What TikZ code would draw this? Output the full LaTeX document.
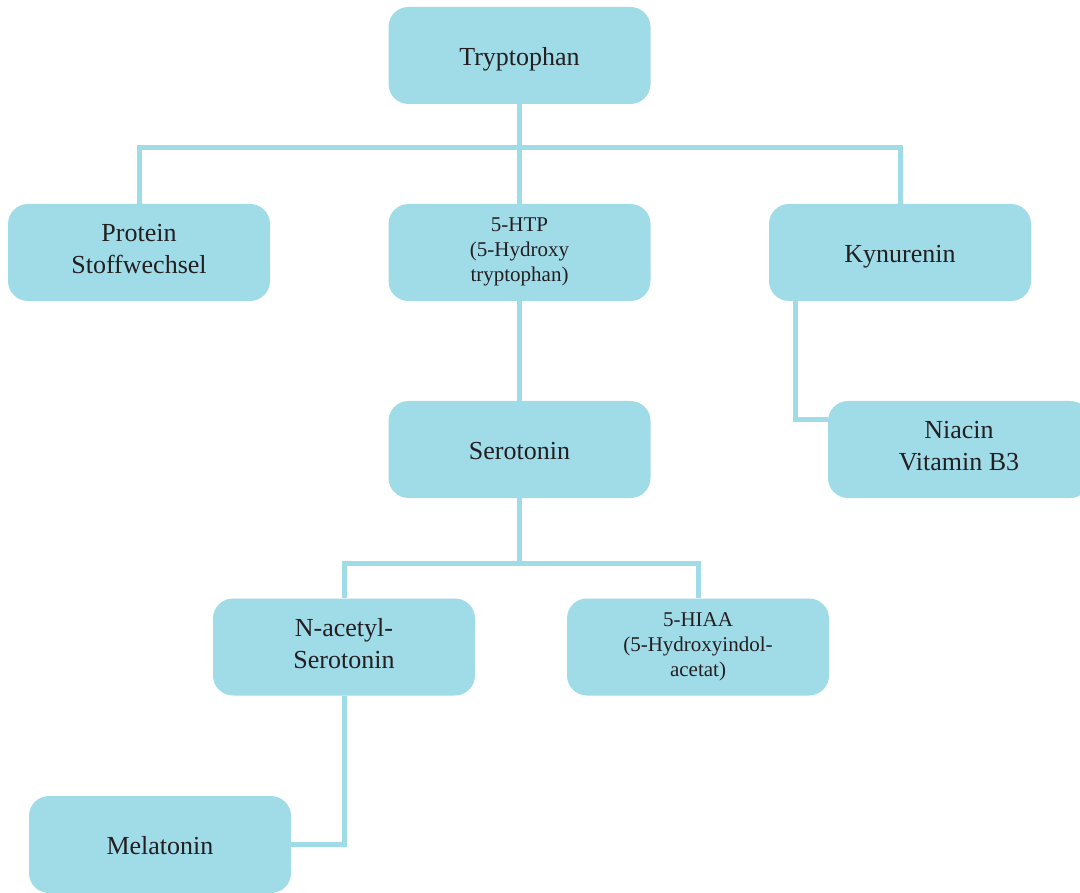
\documentclass[tikz,border=0pt]{standalone}
\usepackage{fontspec}
\setmainfont{Liberation Serif}
\usetikzlibrary{calc,backgrounds}
\definecolor{boxblue}{HTML}{A0DBE8}
\definecolor{txtcol}{HTML}{231F20}
\newcommand{\boxstrut}{\rule[-0.25em]{0pt}{1.25em}}
\begin{document}
\begin{tikzpicture}[x=1pt,y=-1pt,
  box/.style={fill=boxblue, rounded corners=20pt, minimum width=262pt, minimum height=97pt,
    inner sep=0pt, align=center, text=txtcol, font=\fontsize{26}{32}\selectfont,
    execute at begin node=\boxstrut, execute at end node=\boxstrut},
  smallbox/.style={box, font=\fontsize{21}{25}\selectfont},
  link/.style={draw=boxblue, line width=5pt}]
\useasboundingbox (0,0) rectangle (1080,893);
\node[box] (tryp) at (519.5,55.5) {Tryptophan};
\node[box] (prot) at (139,252.5) {Protein\\Stoffwechsel};
\node[smallbox] (htp) at (519.5,252.5) {5-HTP\\(5-Hydroxy\\tryptophan)};
\node[box] (kyn) at (900,252.5) {Kynurenin};
\node[box] (sero) at (519.5,449.5) {Serotonin};
\node[box] (nia) at (959,449.5) {Niacin\\Vitamin B3};
\node[box] (nac) at (344,647) {N-acetyl-\\Serotonin};
\node[smallbox] (hiaa) at (698,647) {5-HIAA\\(5-Hydroxyindol-\\acetat)};
\node[box] (mel) at (160,844.5) {Melatonin};
\coordinate (j1) at (519.5,148);
\coordinate (j2) at (519.5,563);
\begin{scope}[on background layer]
\draw[link] (tryp.south) -- (htp.north);
\draw[link] (prot.north) |- (j1) -| (kyn.north);
\draw[link] (htp.south) -- (sero.north);
\draw[link] ($(kyn.south west)+(27,0)$) |- ($(nia.west)+(0,-30)$);
\draw[link] (sero.south) -- (j2);
\draw[link] (nac.north) |- (j2) -| (hiaa.north);
\draw[link] (nac.south) |- (mel.east);
\end{scope}
\end{tikzpicture}
\end{document}
